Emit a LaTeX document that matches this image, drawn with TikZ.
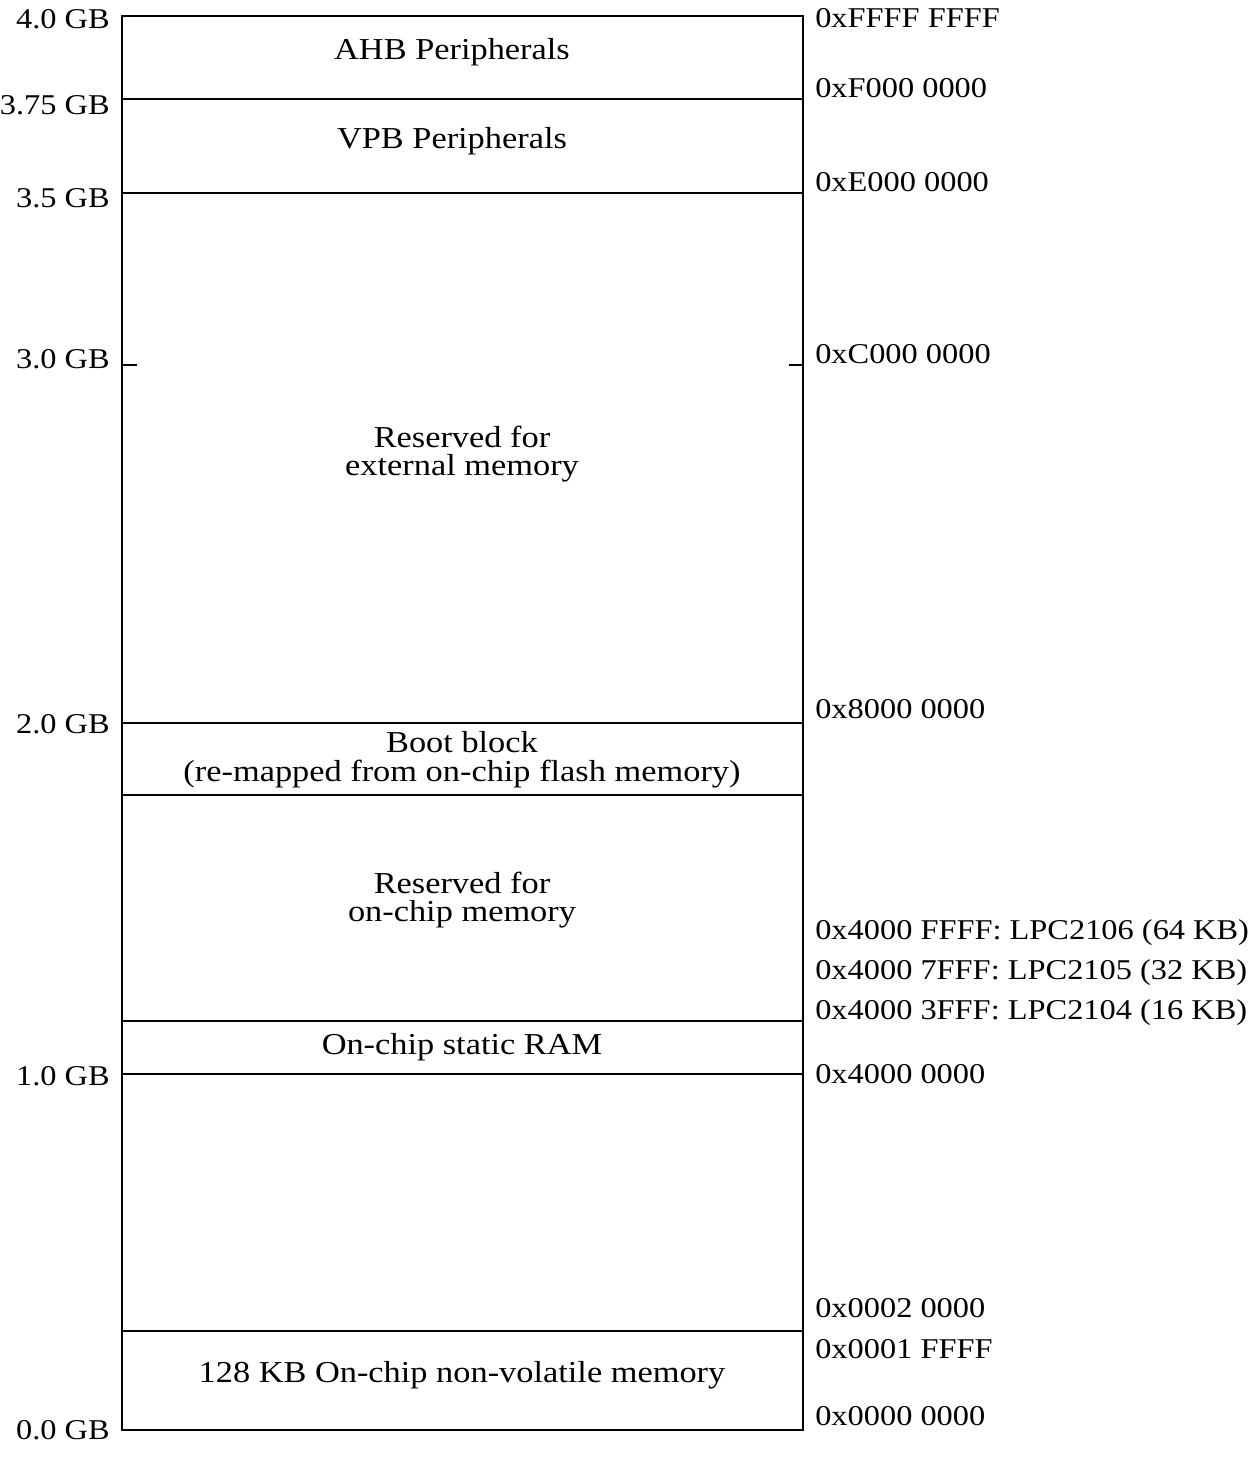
\documentclass[tikz,border=0pt]{standalone}
\usepackage{fontspec}
\setmainfont{Liberation Serif}[FakeStretch=1.13]
\begin{document}
\begin{tikzpicture}[x=0.75pt,y=-0.75pt,
  line/.style={line width=1.4pt},
  lbl/.style={font=\fontsize{21.5}{20}\selectfont, inner sep=0pt},
  gb/.style={lbl, anchor=east},
  addr/.style={lbl, anchor=west},
  region/.style={lbl, align=center, font=\fontsize{22.8}{21.6}\selectfont}]
\useasboundingbox (0,0) rectangle (1251,1458);
% outline
\draw[line] (122,16) rectangle (803,1430);
\foreach \y in {99,193,723,795,1021,1074,1331}
  \draw[line] (122,\y) -- (803,\y);
\draw[line] (122,365) -- (137,365);
\draw[line] (789,365) -- (803,365);
% left labels
\node[gb] (g40) at (110,19) {4.0 GB};
\node[gb] (g375) at (110,105) {3.75 GB};
\node[gb] (g35) at (110,198) {3.5 GB};
\node[gb] (g30) at (110,359) {3.0 GB};
\node[gb] (g20) at (110,724) {2.0 GB};
\node[gb] (g10) at (110,1076) {1.0 GB};
\node[gb] (g00) at (110,1430) {0.0 GB};
% right labels
\node[addr] (aFFFF) at (815,18) {0xFFFF FFFF};
\node[addr] (aF000) at (815,88) {0xF000 0000};
\node[addr] (aE000) at (815,182) {0xE000 0000};
\node[addr] (aC000) at (815,354) {0xC000 0000};
\node[addr] (a8000) at (815,709) {0x8000 0000};
\node[addr] (a2106) at (815,933) {0x4000 FFFF: LPC2106 (64 KB)};
\node[addr] (a2105) at (815,973) {0x4000 7FFF: LPC2105 (32 KB)};
\node[addr] (a2104) at (815,1013) {0x4000 3FFF: LPC2104 (16 KB)};
\node[addr] (a4000) at (815,1074) {0x4000 0000};
\node[addr] (a0002) at (815,1308) {0x0002 0000};
\node[addr] (a0001) at (815,1349) {0x0001 FFFF};
\node[addr] (a0000) at (815,1416) {0x0000 0000};
% regions
\node[region] (ahb) at (452,52) {AHB Peripherals};
\node[region] (vpb) at (452,141) {VPB Peripherals};
\node[region] (ext) at (462,454) {Reserved for\\external memory};
\node[region] (boot) at (462,760) {Boot block\\(re-mapped from on-chip flash memory)};
\node[region] (onchip) at (462,900) {Reserved for\\on-chip memory};
\node[region] (sram) at (462,1047) {On-chip static RAM};
\node[region] (nvm) at (462,1375) {128 KB On-chip non-volatile memory};
\end{tikzpicture}
\end{document}
